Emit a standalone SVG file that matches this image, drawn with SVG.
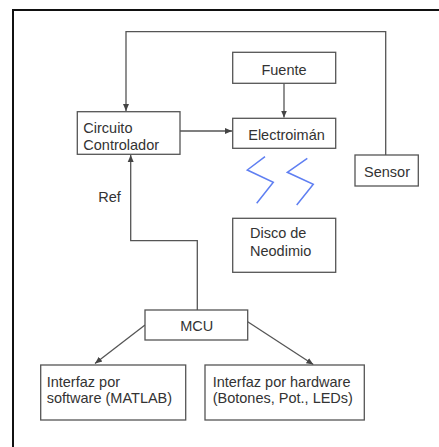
<svg xmlns="http://www.w3.org/2000/svg" width="439" height="447" viewBox="0 0 439 447">
<style>
.box{fill:#fff;stroke:#555;stroke-width:1.3}
.t{font-family:"Liberation Sans",Arial,sans-serif;font-size:14.5px;fill:#333}
.c{stroke:#555;stroke-width:1.3;fill:none}
.z{stroke:#5f7ff2;stroke-width:1.5;fill:none;stroke-linejoin:miter}
</style>
<defs>
<marker id="ah" markerWidth="8" markerHeight="8" refX="7" refY="4" orient="auto" markerUnits="userSpaceOnUse">
<path d="M0,1 L7,4 L0,7 Z" fill="#444"/>
</marker>
</defs>
<rect width="439" height="447" fill="#fff"/>
<rect x="13" y="10" width="440" height="445" fill="none" stroke="#111" stroke-width="2"/>
<g id="connectors">
<path class="c" d="M385.7,155 V31.7 H126 V111" marker-end="url(#ah)"/>
<path class="c" d="M284,83.3 V117.6" marker-end="url(#ah)"/>
<path class="c" d="M180,131 H232" marker-end="url(#ah)"/>
<path class="c" d="M197.3,310 V240.7 H130.7 V155" marker-end="url(#ah)"/>
<path class="c" d="M145,325 L95,363.5" marker-end="url(#ah)"/>
<path class="c" d="M247.7,321.7 L313.3,364.5" marker-end="url(#ah)"/>
</g>
<g id="fuente"><rect class="box" x="232.7" y="52.3" width="103" height="31"/><text class="t" x="284" y="75" text-anchor="middle">Fuente</text></g>
<g id="electroiman"><rect class="box" x="232.7" y="118.3" width="103" height="30"/><text class="t" x="286.5" y="140" text-anchor="middle">Electroimán</text></g>
<g id="controlador"><rect class="box" x="77.3" y="111.7" width="102.7" height="42.6"/><text class="t" x="83.3" y="133.3">Circuito</text><text class="t" x="83.3" y="150">Controlador</text></g>
<g id="sensor"><rect class="box" x="355" y="155" width="63.3" height="31"/><text class="t" x="387" y="177" text-anchor="middle">Sensor</text></g>
<g id="campo">
<path class="z" d="M265,156.7 L247.3,170 L273.3,182.3 L256.7,203.3"/>
<path class="z" d="M307.3,158.3 L287.3,172.3 L313.3,184.3 L296.7,205"/>
</g>
<g id="ref"><text class="t" x="98.3" y="201.7">Ref</text></g>
<g id="disco"><rect class="box" x="232.7" y="218.3" width="103" height="54"/><text class="t" x="250" y="238.3">Disco de</text><text class="t" x="250" y="255.7">Neodimio</text></g>
<g id="mcu"><rect class="box" x="145" y="310" width="102.7" height="30"/><text class="t" x="196.7" y="330.7" text-anchor="middle">MCU</text></g>
<g id="software"><rect class="box" x="40.7" y="365" width="145" height="55"/><text class="t" x="46.7" y="386.5">Interfaz por</text><text class="t" x="46.7" y="403">software (MATLAB)</text></g>
<g id="hardware"><rect class="box" x="205" y="365" width="159.3" height="55"/><text class="t" x="212.7" y="386.5">Interfaz por hardware</text><text class="t" x="212.7" y="403">(Botones, Pot., LEDs)</text></g>
</svg>
